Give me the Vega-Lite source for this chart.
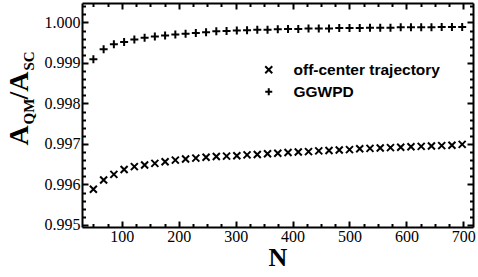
{
  "$schema": "https://vega.github.io/schema/vega-lite/v6.json",
  "width": 391,
  "height": 224,
  "autosize": {"type": "none"},
  "padding": {"left": 82, "top": 3, "right": 5, "bottom": 50},
  "background": "white",
  "config": {
    "view": {"stroke": null},
    "axis": {
      "grid": false,
      "domainColor": "black",
      "tickColor": "black",
      "labelColor": "black",
      "titleColor": "black",
      "labelFont": "Liberation Serif",
      "titleFont": "Liberation Serif",
      "labelFontSize": 16,
      "tickWidth": 2,
      "domainWidth": 2,
      "labelFlush": false,
      "labelOverlap": false
    }
  },
  "data": {
    "values": [
      {"N": 50, "series": "off-center trajectory", "A": 0.99588},
      {"N": 68, "series": "off-center trajectory", "A": 0.99611},
      {"N": 86, "series": "off-center trajectory", "A": 0.99625},
      {"N": 104, "series": "off-center trajectory", "A": 0.99637},
      {"N": 122, "series": "off-center trajectory", "A": 0.99644},
      {"N": 140, "series": "off-center trajectory", "A": 0.99648},
      {"N": 158, "series": "off-center trajectory", "A": 0.99652},
      {"N": 176, "series": "off-center trajectory", "A": 0.99656},
      {"N": 194, "series": "off-center trajectory", "A": 0.9966},
      {"N": 212, "series": "off-center trajectory", "A": 0.99663},
      {"N": 230, "series": "off-center trajectory", "A": 0.99665},
      {"N": 248, "series": "off-center trajectory", "A": 0.99667},
      {"N": 266, "series": "off-center trajectory", "A": 0.99669},
      {"N": 284, "series": "off-center trajectory", "A": 0.9967},
      {"N": 302, "series": "off-center trajectory", "A": 0.99671},
      {"N": 320, "series": "off-center trajectory", "A": 0.99673},
      {"N": 338, "series": "off-center trajectory", "A": 0.99674},
      {"N": 356, "series": "off-center trajectory", "A": 0.99676},
      {"N": 374, "series": "off-center trajectory", "A": 0.99677},
      {"N": 392, "series": "off-center trajectory", "A": 0.99679},
      {"N": 410, "series": "off-center trajectory", "A": 0.9968},
      {"N": 428, "series": "off-center trajectory", "A": 0.99681},
      {"N": 446, "series": "off-center trajectory", "A": 0.99683},
      {"N": 464, "series": "off-center trajectory", "A": 0.99684},
      {"N": 482, "series": "off-center trajectory", "A": 0.99685},
      {"N": 500, "series": "off-center trajectory", "A": 0.99686},
      {"N": 518, "series": "off-center trajectory", "A": 0.99688},
      {"N": 536, "series": "off-center trajectory", "A": 0.99689},
      {"N": 554, "series": "off-center trajectory", "A": 0.9969},
      {"N": 572, "series": "off-center trajectory", "A": 0.99691},
      {"N": 590, "series": "off-center trajectory", "A": 0.99692},
      {"N": 608, "series": "off-center trajectory", "A": 0.99693},
      {"N": 626, "series": "off-center trajectory", "A": 0.99694},
      {"N": 644, "series": "off-center trajectory", "A": 0.99695},
      {"N": 662, "series": "off-center trajectory", "A": 0.99696},
      {"N": 680, "series": "off-center trajectory", "A": 0.99697},
      {"N": 698, "series": "off-center trajectory", "A": 0.99699},
      {"N": 50, "series": "GGWPD", "A": 0.99909},
      {"N": 68, "series": "GGWPD", "A": 0.99934},
      {"N": 86, "series": "GGWPD", "A": 0.99946},
      {"N": 104, "series": "GGWPD", "A": 0.99952},
      {"N": 122, "series": "GGWPD", "A": 0.99958},
      {"N": 140, "series": "GGWPD", "A": 0.99962},
      {"N": 158, "series": "GGWPD", "A": 0.99965},
      {"N": 176, "series": "GGWPD", "A": 0.99968},
      {"N": 194, "series": "GGWPD", "A": 0.9997},
      {"N": 212, "series": "GGWPD", "A": 0.99972},
      {"N": 230, "series": "GGWPD", "A": 0.99974},
      {"N": 248, "series": "GGWPD", "A": 0.99976},
      {"N": 266, "series": "GGWPD", "A": 0.99978},
      {"N": 284, "series": "GGWPD", "A": 0.99979},
      {"N": 302, "series": "GGWPD", "A": 0.9998},
      {"N": 320, "series": "GGWPD", "A": 0.99981},
      {"N": 338, "series": "GGWPD", "A": 0.99982},
      {"N": 356, "series": "GGWPD", "A": 0.99982},
      {"N": 374, "series": "GGWPD", "A": 0.99983},
      {"N": 392, "series": "GGWPD", "A": 0.99984},
      {"N": 410, "series": "GGWPD", "A": 0.99984},
      {"N": 428, "series": "GGWPD", "A": 0.99985},
      {"N": 446, "series": "GGWPD", "A": 0.99985},
      {"N": 464, "series": "GGWPD", "A": 0.99985},
      {"N": 482, "series": "GGWPD", "A": 0.99986},
      {"N": 500, "series": "GGWPD", "A": 0.99986},
      {"N": 518, "series": "GGWPD", "A": 0.99986},
      {"N": 536, "series": "GGWPD", "A": 0.99987},
      {"N": 554, "series": "GGWPD", "A": 0.99987},
      {"N": 572, "series": "GGWPD", "A": 0.99987},
      {"N": 590, "series": "GGWPD", "A": 0.99988},
      {"N": 608, "series": "GGWPD", "A": 0.99988},
      {"N": 626, "series": "GGWPD", "A": 0.99988},
      {"N": 644, "series": "GGWPD", "A": 0.99988},
      {"N": 662, "series": "GGWPD", "A": 0.99989},
      {"N": 680, "series": "GGWPD", "A": 0.99989},
      {"N": 698, "series": "GGWPD", "A": 0.99989}
    ]
  },
  "layer": [
    {
      "transform": [{"filter": "datum.series === 'off-center trajectory'"}],
      "mark": {"type": "point", "filled": false, "stroke": "black", "strokeWidth": 2, "size": 49, "opacity": 1},
      "encoding": {
        "x": {
          "field": "N", "type": "quantitative",
          "scale": {"domain": [30, 717], "nice": false, "zero": false},
          "axis": {
            "orient": "bottom",
            "values": [100, 200, 300, 400, 500, 600, 700],
            "format": "d",
            "tickSize": -6,
            "labelPadding": 7,
            "title": "N",
            "titleFontSize": 26,
            "titleFontWeight": "bold",
            "titleX": 195.5,
            "titleY": 38,
            "titleAlign": "center",
            "titleBaseline": "alphabetic"
          }
        },
        "y": {
          "field": "A", "type": "quantitative",
          "scale": {"domain": [0.99495, 1.00048], "nice": false, "zero": false},
          "axis": {
            "orient": "left",
            "values": [0.995, 0.996, 0.997, 0.998, 0.999, 1.0],
            "format": ".3f",
            "tickSize": -6,
            "labelPadding": 8,
            "title": "A",
            "titleFontSize": 28,
            "titleFontWeight": "bold",
            "titleAngle": 270,
            "titleAlign": "left",
            "titleBaseline": "alphabetic",
            "titleX": -55,
            "titleY": 142
          }
        },
        "shape": {
          "field": "series", "type": "nominal",
          "scale": {"domain": ["off-center trajectory", "GGWPD"], "range": ["M-1,-1L1,1M-1,1L1,-1", "M-1,0L1,0M0,-1L0,1"]},
          "legend": {
            "orient": "none", "legendX": 179, "legendY": 59, "direction": "vertical",
            "title": null, "padding": 0,
            "labelFont": "Liberation Sans", "labelFontWeight": "bold", "labelFontSize": 15.5, "labelColor": "black",
            "symbolSize": 49, "symbolStrokeWidth": 2, "symbolStrokeColor": "black", "symbolFillColor": "transparent",
            "labelOffset": 17, "rowPadding": 5
          }
        }
      }
    },
    {
      "transform": [{"filter": "datum.series === 'GGWPD'"}],
      "mark": {"type": "point", "filled": false, "stroke": "black", "strokeWidth": 2, "size": 64, "opacity": 1},
      "encoding": {
        "x": {
          "field": "N", "type": "quantitative",
          "scale": {"domain": [30, 717], "nice": false, "zero": false},
          "axis": {"orient": "top", "values": [100, 200, 300, 400, 500, 600, 700], "tickSize": -6, "labels": false, "title": null}
        },
        "y": {
          "field": "A", "type": "quantitative",
          "scale": {"domain": [0.99495, 1.00048], "nice": false, "zero": false},
          "axis": {"orient": "right", "values": [0.995, 0.996, 0.997, 0.998, 0.999, 1.0], "tickSize": -6, "labels": false, "title": null}
        },
        "shape": {
          "field": "series", "type": "nominal",
          "scale": {"domain": ["off-center trajectory", "GGWPD"], "range": ["M-1,-1L1,1M-1,1L1,-1", "M-1,0L1,0M0,-1L0,1"]}
        }
      }
    },
    {
      "mark": {"type": "point", "opacity": 0},
      "encoding": {
        "x": {
          "field": "N", "type": "quantitative",
          "scale": {"domain": [30, 717], "nice": false, "zero": false},
          "axis": {"orient": "bottom", "values": [50, 75, 125, 150, 175, 225, 250, 275, 325, 350, 375, 425, 450, 475, 525, 550, 575, 625, 650, 675], "tickSize": -3.5, "labels": false, "domain": false, "title": null}
        },
        "y": {
          "field": "A", "type": "quantitative",
          "scale": {"domain": [0.99495, 1.00048], "nice": false, "zero": false},
          "axis": {
            "orient": "left",
            "values": [0.9952, 0.9954, 0.9956, 0.9958, 0.9962, 0.9964, 0.9966, 0.9968, 0.9972, 0.9974, 0.9976, 0.9978, 0.9982, 0.9984, 0.9986, 0.9988, 0.9992, 0.9994, 0.9996, 0.9998, 1.0002, 1.0004],
            "tickSize": -3.5, "labels": false, "domain": false,
            "title": "QM", "titleFontSize": 15, "titleFontWeight": "bold",
            "titleAngle": 270, "titleAlign": "left", "titleBaseline": "alphabetic",
            "titleX": -49, "titleY": 121
          }
        }
      }
    },
    {
      "mark": {"type": "point", "opacity": 0},
      "encoding": {
        "x": {
          "field": "N", "type": "quantitative",
          "scale": {"domain": [30, 717], "nice": false, "zero": false},
          "axis": {"orient": "top", "values": [50, 75, 125, 150, 175, 225, 250, 275, 325, 350, 375, 425, 450, 475, 525, 550, 575, 625, 650, 675], "tickSize": -3.5, "labels": false, "domain": false, "title": null}
        },
        "y": {
          "field": "A", "type": "quantitative",
          "scale": {"domain": [0.99495, 1.00048], "nice": false, "zero": false},
          "axis": {
            "orient": "right",
            "values": [0.9952, 0.9954, 0.9956, 0.9958, 0.9962, 0.9964, 0.9966, 0.9968, 0.9972, 0.9974, 0.9976, 0.9978, 0.9982, 0.9984, 0.9986, 0.9988, 0.9992, 0.9994, 0.9996, 0.9998, 1.0002, 1.0004],
            "tickSize": -3.5, "labels": false, "domain": false, "title": null
          }
        }
      }
    },
    {
      "mark": {"type": "point", "opacity": 0},
      "encoding": {
        "x": {"field": "N", "type": "quantitative", "scale": {"domain": [30, 717], "nice": false, "zero": false}, "axis": null},
        "y": {
          "field": "A", "type": "quantitative",
          "scale": {"domain": [0.99495, 1.00048], "nice": false, "zero": false},
          "axis": {
            "orient": "left", "ticks": false, "labels": false, "domain": false,
            "title": "/A", "titleFontSize": 28, "titleFontWeight": "bold",
            "titleAngle": 270, "titleAlign": "left", "titleBaseline": "alphabetic",
            "titleX": -55, "titleY": 96
          }
        }
      }
    },
    {
      "mark": {"type": "point", "opacity": 0},
      "encoding": {
        "x": {"field": "N", "type": "quantitative", "scale": {"domain": [30, 717], "nice": false, "zero": false}, "axis": null},
        "y": {
          "field": "A", "type": "quantitative",
          "scale": {"domain": [0.99495, 1.00048], "nice": false, "zero": false},
          "axis": {
            "orient": "left", "ticks": false, "labels": false, "domain": false,
            "title": "SC", "titleFontSize": 15, "titleFontWeight": "bold",
            "titleAngle": 270, "titleAlign": "left", "titleBaseline": "alphabetic",
            "titleX": -49, "titleY": 67
          }
        }
      }
    }
  ],
  "resolve": {"axis": {"x": "independent", "y": "independent"}}
}
